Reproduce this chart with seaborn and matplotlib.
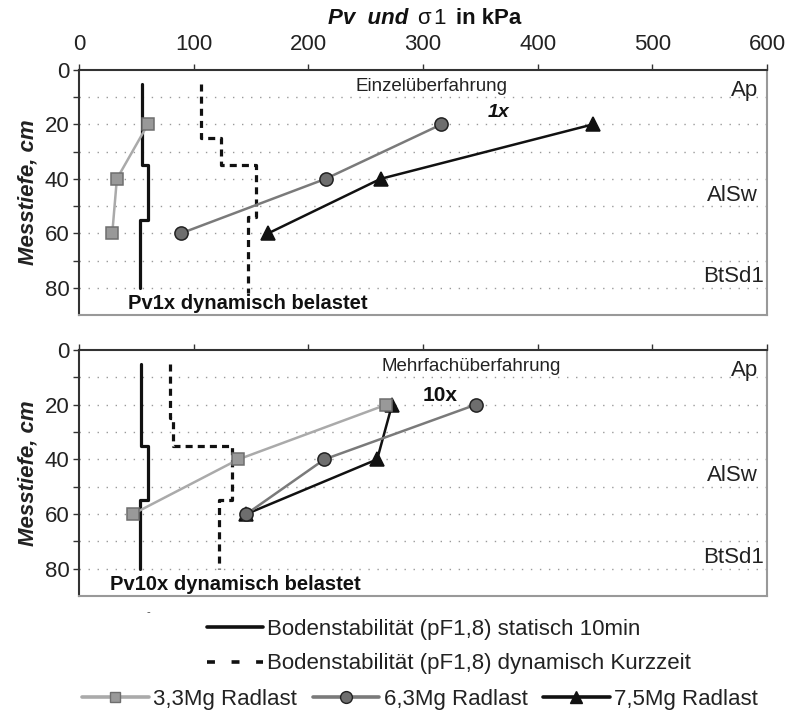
import numpy as np
import pandas as pd
import matplotlib
matplotlib.use("Agg")
import matplotlib.pyplot as plt
import seaborn as sns
from matplotlib.lines import Line2D

sns.set_theme(style="white")
plt.rcParams['font.family'] = ['Liberation Sans', 'DejaVu Sans']

depths = [20, 40, 60]

# panel 1: single pass (1x)
p1_33 = [60, 33, 29]
p1_63 = [316, 215, 89]
p1_75 = [448, 263, 165]
p1_stat_x = [55, 55, 60, 60, 53, 53]
p1_stat_y = [5, 35, 35, 55, 55, 80]
p1_dyn_x = [106, 106, 124, 124, 154, 154, 147, 147]
p1_dyn_y = [5, 25, 25, 35, 35, 54, 54, 82]

# panel 2: multiple pass (10x)
p2_33 = [268, 139, 47]
p2_63 = [346, 214, 146]
p2_75 = [273, 260, 146]
p2_stat_x = [54, 54, 60, 60, 53, 53]
p2_stat_y = [5, 35, 35, 55, 55, 80]
p2_dyn_x = [79, 79, 82, 82, 133, 133, 122, 122]
p2_dyn_y = [5, 25, 25, 35, 35, 55, 55, 80]

series_names = ["3,3Mg Radlast", "6,3Mg Radlast", "7,5Mg Radlast"]
line_cols = ["#aaaaaa", "#7a7a7a", "#111111"]
face_cols = ["#999999", "#6e6e6e", "#111111"]
edge_cols = ["#6e6e6e", "#222222", "#111111"]
marks = ["s", "o", "^"]
msizes = [8.5, 9.5, 9.5]

fig = plt.figure(figsize=(7.91, 7.11), dpi=100)
ax1 = fig.add_axes([0.0999, 0.557, 0.8698, 0.3446])
ax2 = fig.add_axes([0.0999, 0.1617, 0.8698, 0.346])


def draw_panel(ax, s33, s63, s75, sx, sy, dx, dy, title, tag, bottom_txt, title_x, tag_x, bx, show_labels):
    for y in range(10, 90, 10):
        ax.axhline(y, color="#9a9a9a", lw=1, ls=(0, (1, 5.5)), zorder=0)
    ax.plot(sx, sy, color="#111111", lw=2.3, zorder=2)
    ax.plot(dx, dy, color="#111111", lw=2.3, ls=(0, (2.2, 1.6)), zorder=2)
    vals = [s33, s63, s75]
    for i in [2, 1, 0]:
        sns.lineplot(x=vals[i], y=depths, ax=ax, sort=False, estimator=None,
                     color=line_cols[i], lw=1.8, marker=marks[i], markersize=msizes[i],
                     markerfacecolor=face_cols[i], markeredgecolor=edge_cols[i],
                     markeredgewidth=1.1, zorder=3)
    ax.set_xlim(0, 600)
    ax.set_ylim(90, 0)
    ax.set_xticks(range(0, 601, 100))
    ax.set_yticks(range(0, 81, 20))
    ax.set_yticks(range(10, 90, 20), minor=True)
    ax.xaxis.tick_top()
    ax.tick_params(axis="x", which="both", direction="out", length=4, width=1,
                   color="#333333", labelsize=16, top=True, bottom=False, labeltop=show_labels,
                   pad=7, labelcolor="#222222")
    ax.tick_params(axis="y", which="both", direction="out", length=4, width=1,
                   color="#333333", labelsize=16, left=True, pad=3, labelcolor="#222222")
    ax.set_ylabel("Messtiefe, cm", fontsize=16, fontweight="bold", fontstyle="italic",
                  labelpad=4, color="#222222")
    ax.set_xlabel("")
    for side in ["left", "top"]:
        ax.spines[side].set_color("#333333")
        ax.spines[side].set_linewidth(1.5)
    for side in ["right", "bottom"]:
        ax.spines[side].set_color("#999999")
        ax.spines[side].set_linewidth(1.5)
    ax.text(title_x, 6, title, fontsize=13.5, ha="center", va="center", color="#222222")
    if tag == "1x":
        ax.text(tag_x, 15.5, tag, fontsize=14, fontweight="bold", fontstyle="italic",
                ha="center", va="center", color="#111111")
    else:
        ax.text(tag_x, 16.5, tag, fontsize=15, fontweight="bold", ha="center", va="center",
                color="#111111")
    ax.text(bx, 85.7, bottom_txt, fontsize=14.5, fontweight="bold", ha="left", va="center",
            color="#111111")
    ax.text(592, 7.5, "Ap", fontsize=16, ha="right", va="center", color="#222222")
    ax.text(592, 46, "AlSw", fontsize=16, ha="right", va="center", color="#222222")
    ax.text(597, 76, "BtSd1", fontsize=16, ha="right", va="center", color="#222222")


draw_panel(ax1, p1_33, p1_63, p1_75, p1_stat_x, p1_stat_y, p1_dyn_x, p1_dyn_y,
           "Einzelüberfahrung", "1x", "Pv1x dynamisch belastet", 307, 366, 43, True)
draw_panel(ax2, p2_33, p2_63, p2_75, p2_stat_x, p2_stat_y, p2_dyn_x, p2_dyn_y,
           "Mehrfachüberfahrung", "10x", "Pv10x dynamisch belastet", 342, 315, 27, False)

# axis title made of pieces (bold italic / symbol / bold)
ty = 1 - 19 / 711
fig.text(328 / 791, ty, "Pv  und", fontsize=16, fontweight="bold", fontstyle="italic",
         ha="left", va="center", color="#111111")
fig.text(417 / 791, ty, "σ", fontsize=16, ha="left", va="center", color="#111111")
fig.text(433 / 791, ty, "1", fontsize=16, ha="left", va="center", color="#111111")
fig.text(456 / 791, ty, "in kPa", fontsize=16, fontweight="bold", ha="left", va="center",
         color="#111111")
fig.text(148 / 791, 1 - 612 / 711, "-", fontsize=8, ha="center", va="center", color="#444444")

h_stat = Line2D([], [], color="#111111", lw=2.6)
h_dyn = Line2D([], [], color="#111111", lw=2.6, ls=(0, (2.2, 4.6)))
leg1 = fig.legend([h_stat, h_dyn],
                  ["Bodenstabilität (pF1,8) statisch 10min",
                   "Bodenstabilität (pF1,8) dynamisch Kurzzeit"],
                  loc="upper left", bbox_to_anchor=(207 / 791, 1 - 619 / 711), frameon=False,
                  fontsize=16, handlelength=2.5, handletextpad=0.2, labelspacing=0.6,
                  borderaxespad=0, borderpad=0)
for t in leg1.get_texts():
    t.set_color("#222222")
h_s = [Line2D([], [], color=line_cols[i], lw=2.6, marker=marks[i], markersize=msizes[i] - 1,
              markerfacecolor=face_cols[i], markeredgecolor=edge_cols[i]) for i in range(3)]
leg2 = fig.legend(h_s, series_names, loc="upper left", bbox_to_anchor=(82 / 791, 1 - 689 / 711),
                  ncol=3, frameon=False, fontsize=16, handlelength=3.0, handletextpad=0.2,
                  columnspacing=0.7, borderaxespad=0, borderpad=0)
for t in leg2.get_texts():
    t.set_color("#222222")

fig.savefig("out.png", dpi=100)
